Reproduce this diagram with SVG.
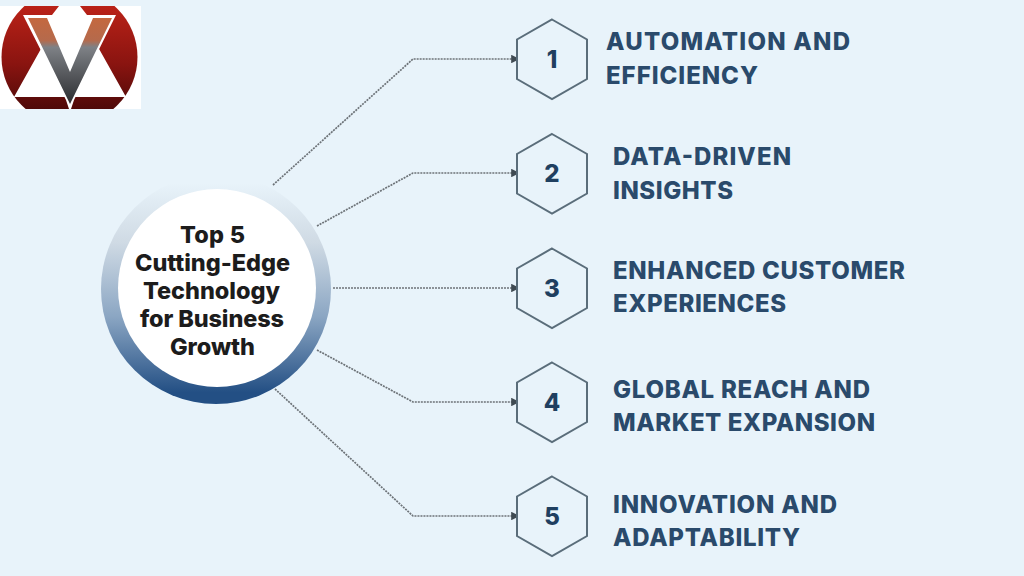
<svg xmlns="http://www.w3.org/2000/svg" width="1024" height="576" viewBox="0 0 1024 576">
<style>
.lbl{font-family:"Inter","Liberation Sans",sans-serif;font-weight:800;font-size:24px;fill:#2a4a6b}
.num{font-family:"Inter","Liberation Sans",sans-serif;font-weight:800;font-size:24px;fill:#1f3f60;text-anchor:middle}
.hex{fill:#e8f3fa;stroke:#5a6d7a;stroke-width:2}
.hub{font-family:"Inter","Liberation Sans",sans-serif;font-weight:800;font-size:23.5px;fill:#1c1c1c}
.con{fill:none;stroke:#6d7378;stroke-width:1.7;stroke-dasharray:2 1}
</style>
<defs>
<linearGradient id="ring" x1="0" y1="0" x2="0" y2="1"><stop offset=".04" stop-color="#e8f3fa"/><stop offset=".3" stop-color="#cfdae4"/><stop offset=".62" stop-color="#8ba6c3"/><stop offset=".95" stop-color="#234f84"/></linearGradient>
<linearGradient id="red" x1="0" y1="0" x2="0" y2="1"><stop offset="0" stop-color="#c8261a"/><stop offset=".55" stop-color="#8a1410"/><stop offset="1" stop-color="#3a0606"/></linearGradient>
<linearGradient id="vee" x1="0" y1="0" x2="0" y2="1"><stop offset="0" stop-color="#c4683f"/><stop offset=".26" stop-color="#b56a4c"/><stop offset=".34" stop-color="#7e8186"/><stop offset="1" stop-color="#2b2d30"/></linearGradient>
<clipPath id="lc"><rect x="0" y="6" width="141" height="103"/></clipPath>
<marker id="ah" markerWidth="5" markerHeight="5" refX="4" refY="2.5" orient="auto"><path d="M0 0L5 2.5L0 5z" fill="#3f4a52"/></marker>
</defs>
<rect width="1024" height="576" fill="#e8f3fa"/>
<g id="logo">
<rect x="0" y="6" width="141" height="103" fill="#fff"/>
<circle cx="69.500" cy="57" r="68" fill="url(#red)" clip-path="url(#lc)"/>
<path d="M14 97L42 47L70 97z M126 97L98 47L70 97z" fill="#fff"/>
<path d="M23 15H52L59 6H80L87 15H116L74 100L71 109H69L66 100z" fill="#fff"/>
<path d="M28 18H47L70 72L93 18H112L70 104z" fill="url(#vee)"/>
</g>
<g id="connectors">
<path class="con" d="M273 185L413 59H518" marker-end="url(#ah)"/>
<path class="con" d="M317 226L413 173H518" marker-end="url(#ah)"/>
<path class="con" d="M333 288H518" marker-end="url(#ah)"/>
<path class="con" d="M317 350L413 402H518" marker-end="url(#ah)"/>
<path class="con" d="M275 389L413 516H518" marker-end="url(#ah)"/>
</g>
<g id="hub">
<circle cx="216" cy="289" r="115" fill="url(#ring)"/>
<circle cx="217" cy="288" r="99" fill="#fff"/>
<text class="hub" x="180" y="243" textLength="65">Top 5</text>
<text class="hub" x="135" y="271" textLength="155">Cutting-Edge</text>
<text class="hub" x="143" y="299" textLength="137">Technology</text>
<text class="hub" x="140" y="327" textLength="144">for Business</text>
<text class="hub" x="170" y="355" textLength="85">Growth</text>
</g>
<g id="node1"><path class="hex" d="M552 19.500L587 39.500V79L552 99L517 79V39.500z"/><text class="num" x="552" y="68">1</text><text class="lbl" x="606" y="50" textLength="244">AUTOMATION AND</text><text class="lbl" x="606" y="84" textLength="152">EFFICIENCY</text></g>
<g id="node2"><path class="hex" d="M552 134L587 154V193.500L552 213.500L517 193.500V154z"/><text class="num" x="552" y="182">2</text><text class="lbl" x="613" y="165" textLength="178">DATA-DRIVEN</text><text class="lbl" x="613" y="199" textLength="120">INSIGHTS</text></g>
<g id="node3"><path class="hex" d="M552 248.500L587 268.500V308L552 328L517 308V268.500z"/><text class="num" x="552" y="297">3</text><text class="lbl" x="613" y="279" textLength="292">ENHANCED CUSTOMER</text><text class="lbl" x="613" y="312" textLength="173">EXPERIENCES</text></g>
<g id="node4"><path class="hex" d="M552 362.500L587 382.500V422L552 442L517 422V382.500z"/><text class="num" x="552" y="411">4</text><text class="lbl" x="613" y="398" textLength="257">GLOBAL REACH AND</text><text class="lbl" x="613" y="431" textLength="262">MARKET EXPANSION</text></g>
<g id="node5"><path class="hex" d="M552 476.500L587 496.500V536L552 556L517 536V496.500z"/><text class="num" x="552" y="525">5</text><text class="lbl" x="613" y="513" textLength="224">INNOVATION AND</text><text class="lbl" x="613" y="546" textLength="187">ADAPTABILITY</text></g>
</svg>
